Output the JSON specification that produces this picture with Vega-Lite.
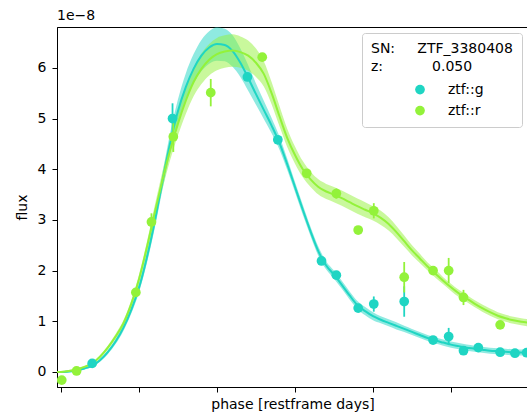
{
  "$schema": "https://vega.github.io/schema/vega-lite/v6.json",
  "width": 471,
  "height": 360,
  "autosize": "none",
  "padding": {"left": 57, "top": 27, "right": 0, "bottom": 29},
  "title": {"text": "1e−8", "anchor": "start", "frame": "group", "fontSize": 14, "fontWeight": "normal", "font": "DejaVu Sans", "color": "#000", "offset": 4},
  "config": {
    "font": "DejaVu Sans",
    "view": {"stroke": "#000", "strokeWidth": 1},
    "axis": {"grid": false, "domainColor": "#000", "tickColor": "#000", "labelColor": "#000", "titleColor": "#000", "labelFont": "DejaVu Sans", "titleFont": "DejaVu Sans", "labelFontSize": 14, "titleFontSize": 14, "titleFontWeight": "normal", "tickSize": 5, "domainWidth": 1, "tickWidth": 1}
  },
  "datasets": {
    "model": [
      {"band": "ztf::g", "phase": -21, "flux": 0.0, "w": 0.02},
      {"band": "ztf::g", "phase": -20, "flux": 0.0, "w": 0.02},
      {"band": "ztf::g", "phase": -19, "flux": 0.01, "w": 0.02},
      {"band": "ztf::g", "phase": -18, "flux": 0.03, "w": 0.02},
      {"band": "ztf::g", "phase": -17, "flux": 0.07, "w": 0.02},
      {"band": "ztf::g", "phase": -16, "flux": 0.12, "w": 0.02},
      {"band": "ztf::g", "phase": -15, "flux": 0.23, "w": 0.03},
      {"band": "ztf::g", "phase": -14, "flux": 0.39, "w": 0.04},
      {"band": "ztf::g", "phase": -13, "flux": 0.6, "w": 0.05},
      {"band": "ztf::g", "phase": -12, "flux": 0.87, "w": 0.06},
      {"band": "ztf::g", "phase": -11, "flux": 1.22, "w": 0.07},
      {"band": "ztf::g", "phase": -10, "flux": 1.66, "w": 0.09},
      {"band": "ztf::g", "phase": -9, "flux": 2.25, "w": 0.11},
      {"band": "ztf::g", "phase": -8, "flux": 2.95, "w": 0.13},
      {"band": "ztf::g", "phase": -7, "flux": 3.75, "w": 0.16},
      {"band": "ztf::g", "phase": -6, "flux": 4.52, "w": 0.2},
      {"band": "ztf::g", "phase": -5, "flux": 5.15, "w": 0.23},
      {"band": "ztf::g", "phase": -4, "flux": 5.62, "w": 0.27},
      {"band": "ztf::g", "phase": -3, "flux": 5.98, "w": 0.29},
      {"band": "ztf::g", "phase": -2, "flux": 6.24, "w": 0.31},
      {"band": "ztf::g", "phase": -1, "flux": 6.4, "w": 0.32},
      {"band": "ztf::g", "phase": 0, "flux": 6.47, "w": 0.33},
      {"band": "ztf::g", "phase": 1, "flux": 6.45, "w": 0.32},
      {"band": "ztf::g", "phase": 2, "flux": 6.33, "w": 0.31},
      {"band": "ztf::g", "phase": 3, "flux": 6.1, "w": 0.28},
      {"band": "ztf::g", "phase": 4, "flux": 5.8, "w": 0.25},
      {"band": "ztf::g", "phase": 5, "flux": 5.48, "w": 0.21},
      {"band": "ztf::g", "phase": 6, "flux": 5.17, "w": 0.18},
      {"band": "ztf::g", "phase": 7, "flux": 4.86, "w": 0.15},
      {"band": "ztf::g", "phase": 8, "flux": 4.52, "w": 0.13},
      {"band": "ztf::g", "phase": 9, "flux": 4.1, "w": 0.11},
      {"band": "ztf::g", "phase": 10, "flux": 3.65, "w": 0.1},
      {"band": "ztf::g", "phase": 11, "flux": 3.2, "w": 0.1},
      {"band": "ztf::g", "phase": 12, "flux": 2.77, "w": 0.09},
      {"band": "ztf::g", "phase": 13, "flux": 2.38, "w": 0.09},
      {"band": "ztf::g", "phase": 14, "flux": 2.1, "w": 0.08},
      {"band": "ztf::g", "phase": 15, "flux": 1.92, "w": 0.08},
      {"band": "ztf::g", "phase": 16, "flux": 1.72, "w": 0.08},
      {"band": "ztf::g", "phase": 17, "flux": 1.51, "w": 0.08},
      {"band": "ztf::g", "phase": 18, "flux": 1.32, "w": 0.08},
      {"band": "ztf::g", "phase": 19, "flux": 1.2, "w": 0.08},
      {"band": "ztf::g", "phase": 20, "flux": 1.1, "w": 0.08},
      {"band": "ztf::g", "phase": 21, "flux": 1.03, "w": 0.07},
      {"band": "ztf::g", "phase": 22, "flux": 0.97, "w": 0.07},
      {"band": "ztf::g", "phase": 23, "flux": 0.91, "w": 0.07},
      {"band": "ztf::g", "phase": 24, "flux": 0.85, "w": 0.06},
      {"band": "ztf::g", "phase": 25, "flux": 0.79, "w": 0.06},
      {"band": "ztf::g", "phase": 26, "flux": 0.73, "w": 0.06},
      {"band": "ztf::g", "phase": 27, "flux": 0.67, "w": 0.06},
      {"band": "ztf::g", "phase": 28, "flux": 0.62, "w": 0.06},
      {"band": "ztf::g", "phase": 29, "flux": 0.58, "w": 0.06},
      {"band": "ztf::g", "phase": 30, "flux": 0.54, "w": 0.06},
      {"band": "ztf::g", "phase": 31, "flux": 0.51, "w": 0.06},
      {"band": "ztf::g", "phase": 32, "flux": 0.48, "w": 0.06},
      {"band": "ztf::g", "phase": 33, "flux": 0.46, "w": 0.06},
      {"band": "ztf::g", "phase": 34, "flux": 0.44, "w": 0.06},
      {"band": "ztf::g", "phase": 35, "flux": 0.42, "w": 0.06},
      {"band": "ztf::g", "phase": 36, "flux": 0.41, "w": 0.06},
      {"band": "ztf::g", "phase": 37, "flux": 0.4, "w": 0.06},
      {"band": "ztf::g", "phase": 38, "flux": 0.39, "w": 0.06},
      {"band": "ztf::g", "phase": 39, "flux": 0.385, "w": 0.06},
      {"band": "ztf::g", "phase": 40, "flux": 0.38, "w": 0.06},
      {"band": "ztf::r", "phase": -21, "flux": 0.0, "w": 0.02},
      {"band": "ztf::r", "phase": -20, "flux": 0.0, "w": 0.02},
      {"band": "ztf::r", "phase": -19, "flux": 0.02, "w": 0.02},
      {"band": "ztf::r", "phase": -18, "flux": 0.05, "w": 0.02},
      {"band": "ztf::r", "phase": -17, "flux": 0.1, "w": 0.02},
      {"band": "ztf::r", "phase": -16, "flux": 0.17, "w": 0.02},
      {"band": "ztf::r", "phase": -15, "flux": 0.3, "w": 0.03},
      {"band": "ztf::r", "phase": -14, "flux": 0.48, "w": 0.04},
      {"band": "ztf::r", "phase": -13, "flux": 0.7, "w": 0.05},
      {"band": "ztf::r", "phase": -12, "flux": 0.96, "w": 0.06},
      {"band": "ztf::r", "phase": -11, "flux": 1.34, "w": 0.07},
      {"band": "ztf::r", "phase": -10, "flux": 1.83, "w": 0.09},
      {"band": "ztf::r", "phase": -9, "flux": 2.45, "w": 0.11},
      {"band": "ztf::r", "phase": -8, "flux": 3.13, "w": 0.14},
      {"band": "ztf::r", "phase": -7, "flux": 3.78, "w": 0.17},
      {"band": "ztf::r", "phase": -6, "flux": 4.38, "w": 0.2},
      {"band": "ztf::r", "phase": -5, "flux": 4.9, "w": 0.23},
      {"band": "ztf::r", "phase": -4, "flux": 5.35, "w": 0.26},
      {"band": "ztf::r", "phase": -3, "flux": 5.72, "w": 0.28},
      {"band": "ztf::r", "phase": -2, "flux": 5.98, "w": 0.3},
      {"band": "ztf::r", "phase": -1, "flux": 6.16, "w": 0.31},
      {"band": "ztf::r", "phase": 0, "flux": 6.27, "w": 0.32},
      {"band": "ztf::r", "phase": 1, "flux": 6.32, "w": 0.32},
      {"band": "ztf::r", "phase": 2, "flux": 6.34, "w": 0.32},
      {"band": "ztf::r", "phase": 3, "flux": 6.31, "w": 0.31},
      {"band": "ztf::r", "phase": 4, "flux": 6.24, "w": 0.3},
      {"band": "ztf::r", "phase": 5, "flux": 6.1, "w": 0.28},
      {"band": "ztf::r", "phase": 6, "flux": 5.88, "w": 0.25},
      {"band": "ztf::r", "phase": 7, "flux": 5.5, "w": 0.22},
      {"band": "ztf::r", "phase": 8, "flux": 5.05, "w": 0.2},
      {"band": "ztf::r", "phase": 9, "flux": 4.62, "w": 0.18},
      {"band": "ztf::r", "phase": 10, "flux": 4.28, "w": 0.17},
      {"band": "ztf::r", "phase": 11, "flux": 4.0, "w": 0.16},
      {"band": "ztf::r", "phase": 12, "flux": 3.8, "w": 0.15},
      {"band": "ztf::r", "phase": 13, "flux": 3.65, "w": 0.15},
      {"band": "ztf::r", "phase": 14, "flux": 3.56, "w": 0.15},
      {"band": "ztf::r", "phase": 15, "flux": 3.5, "w": 0.15},
      {"band": "ztf::r", "phase": 16, "flux": 3.43, "w": 0.15},
      {"band": "ztf::r", "phase": 17, "flux": 3.35, "w": 0.15},
      {"band": "ztf::r", "phase": 18, "flux": 3.27, "w": 0.15},
      {"band": "ztf::r", "phase": 19, "flux": 3.2, "w": 0.15},
      {"band": "ztf::r", "phase": 20, "flux": 3.13, "w": 0.14},
      {"band": "ztf::r", "phase": 21, "flux": 3.04, "w": 0.14},
      {"band": "ztf::r", "phase": 22, "flux": 2.92, "w": 0.13},
      {"band": "ztf::r", "phase": 23, "flux": 2.76, "w": 0.12},
      {"band": "ztf::r", "phase": 24, "flux": 2.58, "w": 0.11},
      {"band": "ztf::r", "phase": 25, "flux": 2.4, "w": 0.1},
      {"band": "ztf::r", "phase": 26, "flux": 2.24, "w": 0.09},
      {"band": "ztf::r", "phase": 27, "flux": 2.08, "w": 0.08},
      {"band": "ztf::r", "phase": 28, "flux": 1.94, "w": 0.08},
      {"band": "ztf::r", "phase": 29, "flux": 1.8, "w": 0.07},
      {"band": "ztf::r", "phase": 30, "flux": 1.67, "w": 0.07},
      {"band": "ztf::r", "phase": 31, "flux": 1.55, "w": 0.07},
      {"band": "ztf::r", "phase": 32, "flux": 1.45, "w": 0.07},
      {"band": "ztf::r", "phase": 33, "flux": 1.35, "w": 0.07},
      {"band": "ztf::r", "phase": 34, "flux": 1.26, "w": 0.07},
      {"band": "ztf::r", "phase": 35, "flux": 1.18, "w": 0.07},
      {"band": "ztf::r", "phase": 36, "flux": 1.11, "w": 0.07},
      {"band": "ztf::r", "phase": 37, "flux": 1.06, "w": 0.07},
      {"band": "ztf::r", "phase": 38, "flux": 1.02, "w": 0.07},
      {"band": "ztf::r", "phase": 39, "flux": 0.99, "w": 0.07},
      {"band": "ztf::r", "phase": 40, "flux": 0.97, "w": 0.07}
    ],
    "obs": [
      {"band": "ztf::g", "phase": -16.0, "flux": 0.17, "err": 0.05},
      {"band": "ztf::g", "phase": -5.7, "flux": 5.0, "err": 0.3},
      {"band": "ztf::g", "phase": 3.9, "flux": 5.82, "err": 0.08},
      {"band": "ztf::g", "phase": 7.8, "flux": 4.58, "err": 0.06},
      {"band": "ztf::g", "phase": 13.4, "flux": 2.19, "err": 0.06},
      {"band": "ztf::g", "phase": 15.3, "flux": 1.91, "err": 0.06},
      {"band": "ztf::g", "phase": 18.1, "flux": 1.26, "err": 0.06},
      {"band": "ztf::g", "phase": 20.1, "flux": 1.34, "err": 0.15},
      {"band": "ztf::g", "phase": 24.0, "flux": 1.39, "err": 0.3},
      {"band": "ztf::g", "phase": 27.7, "flux": 0.63, "err": 0.06},
      {"band": "ztf::g", "phase": 29.7, "flux": 0.7, "err": 0.17},
      {"band": "ztf::g", "phase": 31.6, "flux": 0.42, "err": 0.06},
      {"band": "ztf::g", "phase": 33.5, "flux": 0.48, "err": 0.06},
      {"band": "ztf::g", "phase": 36.3, "flux": 0.39, "err": 0.05},
      {"band": "ztf::g", "phase": 38.2, "flux": 0.37, "err": 0.05},
      {"band": "ztf::g", "phase": 39.7, "flux": 0.38, "err": 0.05},
      {"band": "ztf::r", "phase": -19.9, "flux": -0.16, "err": 0.05},
      {"band": "ztf::r", "phase": -18.0, "flux": 0.02, "err": 0.05},
      {"band": "ztf::r", "phase": -10.4, "flux": 1.57, "err": 0.08},
      {"band": "ztf::r", "phase": -8.4, "flux": 2.96, "err": 0.17},
      {"band": "ztf::r", "phase": -5.6, "flux": 4.64, "err": 0.3},
      {"band": "ztf::r", "phase": -0.8, "flux": 5.51, "err": 0.27},
      {"band": "ztf::r", "phase": 5.8, "flux": 6.21, "err": 0.08},
      {"band": "ztf::r", "phase": 11.5, "flux": 3.92, "err": 0.08},
      {"band": "ztf::r", "phase": 15.3, "flux": 3.52, "err": 0.1},
      {"band": "ztf::r", "phase": 18.1, "flux": 2.8, "err": 0.06},
      {"band": "ztf::r", "phase": 20.1, "flux": 3.18, "err": 0.15},
      {"band": "ztf::r", "phase": 24.0, "flux": 1.87, "err": 0.3},
      {"band": "ztf::r", "phase": 27.7, "flux": 2.0, "err": 0.06},
      {"band": "ztf::r", "phase": 29.7, "flux": 2.0, "err": 0.25},
      {"band": "ztf::r", "phase": 31.6, "flux": 1.47, "err": 0.15},
      {"band": "ztf::r", "phase": 36.3, "flux": 0.93, "err": 0.06}
    ]
  },
  "layer": [
    {
      "data": {"name": "model"},
      "mark": {"type": "errorband", "opacity": 0.5, "interpolate": "monotone", "clip": true},
      "encoding": {
        "x": {"field": "phase", "type": "quantitative", "title": "phase [restframe days]", "scale": {"domain": [-20.51, 39.87], "nice": false, "zero": false},
              "axis": {"values": [-20, -10, 0, 10, 20, 30], "labels": false, "titlePadding": 5}},
        "y": {"field": "flux", "type": "quantitative", "title": "flux", "scale": {"domain": [-0.296, 6.805], "nice": false, "zero": false},
              "axis": {"values": [0, 1, 2, 3, 4, 5, 6], "labelPadding": 6, "titlePadding": 8}},
        "yError": {"field": "w"},
        "detail": {"field": "band"},
        "color": {"condition": {"test": "datum.band === 'ztf::g'", "value": "#1fd5c3"}, "value": "#93f23a"}
      }
    },
    {
      "data": {"name": "model"},
      "mark": {"type": "line", "strokeWidth": 2, "interpolate": "monotone", "clip": true},
      "encoding": {
        "x": {"field": "phase", "type": "quantitative", "title": "phase [restframe days]", "scale": {"domain": [-20.51, 39.87], "nice": false, "zero": false}},
        "y": {"field": "flux", "type": "quantitative", "title": "flux", "scale": {"domain": [-0.296, 6.805], "nice": false, "zero": false}},
        "detail": {"field": "band"},
        "color": {"condition": {"test": "datum.band === 'ztf::g'", "value": "#1fd5c3"}, "value": "#93f23a"}
      }
    },
    {
      "mark": {"type": "rule", "color": "#2b6a9e", "strokeWidth": 2, "strokeDash": [1.5, 2.5]},
      "encoding": {
        "x": {"datum": 0, "type": "quantitative", "scale": {"domain": [-20.51, 39.87], "nice": false, "zero": false}}
      }
    },
    {
      "data": {"name": "obs"},
      "mark": {"type": "errorbar", "thickness": 1.8, "clip": true},
      "encoding": {
        "x": {"field": "phase", "type": "quantitative", "title": "phase [restframe days]", "scale": {"domain": [-20.51, 39.87], "nice": false, "zero": false}},
        "y": {"field": "flux", "type": "quantitative", "title": "flux", "scale": {"domain": [-0.296, 6.805], "nice": false, "zero": false}},
        "yError": {"field": "err"},
        "color": {"condition": {"test": "datum.band === 'ztf::g'", "value": "#1fd5c3"}, "value": "#93f23a"}
      }
    },
    {
      "data": {"name": "obs"},
      "mark": {"type": "point", "filled": true, "opacity": 1, "size": 95, "shape": "circle", "clip": true},
      "encoding": {
        "x": {"field": "phase", "type": "quantitative", "title": "phase [restframe days]", "scale": {"domain": [-20.51, 39.87], "nice": false, "zero": false}},
        "y": {"field": "flux", "type": "quantitative", "title": "flux", "scale": {"domain": [-0.296, 6.805], "nice": false, "zero": false}},
        "color": {"field": "band", "type": "nominal",
                  "scale": {"domain": ["ztf::g", "ztf::r"], "range": ["#1fd5c3", "#93f23a"]},
                  "legend": {"title": ["SN:\u00a0\u00a0\u00a0\u00a0\u00a0ZTF_3380408", "z:\u00a0\u00a0\u00a0\u00a0\u00a0\u00a0\u00a0\u00a0\u00a0\u00a0\u00a00.050"],
                             "orient": "top-right", "offset": 6, "padding": 9,
                             "fillColor": "rgba(255,255,255,0.85)", "strokeColor": "#cccccc", "cornerRadius": 3,
                             "titleFont": "DejaVu Sans", "titleFontSize": 14, "titleFontWeight": "normal", "titleColor": "#000", "titleLineHeight": 17.6, "titlePadding": 9,
                             "labelFont": "DejaVu Sans", "labelFontSize": 14, "labelColor": "#000", "labelOffset": 21,
                             "symbolOffset": 42, "symbolSize": 95, "symbolType": "circle", "symbolStrokeWidth": 0, "rowPadding": 7}}
      }
    }
  ]
}
